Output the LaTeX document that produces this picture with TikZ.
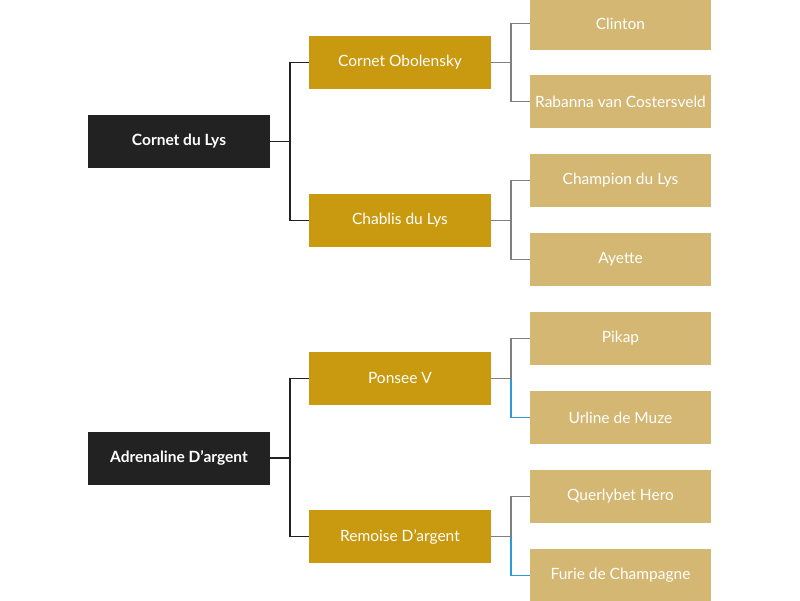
\documentclass[tikz,border=0pt]{standalone}
\usepackage{fontspec}
\setmainfont{Lato}
\definecolor{rootc}{HTML}{222222}
\definecolor{midc}{HTML}{C9990F}
\definecolor{leafc}{HTML}{D3B772}
\definecolor{grayl}{HTML}{7F7F7F}
\definecolor{bluel}{HTML}{2E9BD6}
\newcommand{\apos}{{\char"0027}}
\begin{document}
\begin{tikzpicture}[x=1pt,y=-1pt,
  box/.style={minimum height=53pt, inner sep=0pt, text=white, font=\fontsize{15.5}{18}\selectfont},
  rootbox/.style={box, fill=rootc, minimum width=182pt, font=\fontsize{15.5}{18}\selectfont\bfseries},
  midbox/.style={box, fill=midc, minimum width=182pt},
  leafbox/.style={box, fill=leafc, minimum width=181pt},
  lk/.style={line width=1.8pt, draw=rootc},
  gl/.style={line width=1.8pt, draw=grayl},
  bl/.style={line width=1.8pt, draw=bluel}]
\useasboundingbox (0,0) rectangle (800,600);
\begin{scope}
\clip (0,0) rectangle (800,600);
\node[rootbox] (r1) at (179,141.5) {Cornet du Lys};
\node[rootbox] (r2) at (179,458) {Adrenaline D\apos argent};
\node[midbox] (m1) at (400,62.5) {Cornet Obolensky};
\node[midbox] (m2) at (400,220.5) {Chablis du Lys};
\node[midbox] (m3) at (400,378.5) {Ponsee V};
\node[midbox] (m4) at (400,536.5) {Remoise D\apos argent};
\node[leafbox] (l1) at (620.5,23.5) {Clinton};
\node[leafbox] (l2) at (620.5,101.5) {Rabanna van Costersveld};
\node[leafbox] (l3) at (620.5,180.5) {Champion du Lys};
\node[leafbox] (l4) at (620.5,259.5) {Ayette};
\node[leafbox] (l5) at (620.5,338.5) {Pikap};
\node[leafbox] (l6) at (620.5,417.5) {Urline de Muze};
\node[leafbox] (l7) at (620.5,496.5) {Querlybet Hero};
\node[leafbox] (l8) at (620.5,575.5) {Furie de Champagne};
\end{scope}
% level 1 connectors
\draw[lk] (r1.east) -- ++(19.5,0) |- (m1.west);
\draw[lk] (r1.east) ++(19.5,0) |- (m2.west);
\draw[lk] (r2.east) -- ++(19.5,0) |- (m3.west);
\draw[lk] (r2.east) ++(19.5,0) |- (m4.west);
% level 2 connectors
\draw[gl] (m1.east) -- ++(19.5,0) |- (l1.west);
\draw[gl] (m1.east) ++(19.5,0) |- (l2.west);
\draw[gl] (m2.east) -- ++(19.5,0) |- (l3.west);
\draw[gl] (m2.east) ++(19.5,0) |- (l4.west);
\draw[gl] (m3.east) -- ++(19.5,0) |- (l5.west);
\draw[bl] (m3.east) ++(19.5,0) |- (l6.west);
\draw[gl] (m4.east) -- ++(19.5,0) |- (l7.west);
\draw[bl] (m4.east) ++(19.5,0) |- (l8.west);
\end{tikzpicture}
\end{document}
